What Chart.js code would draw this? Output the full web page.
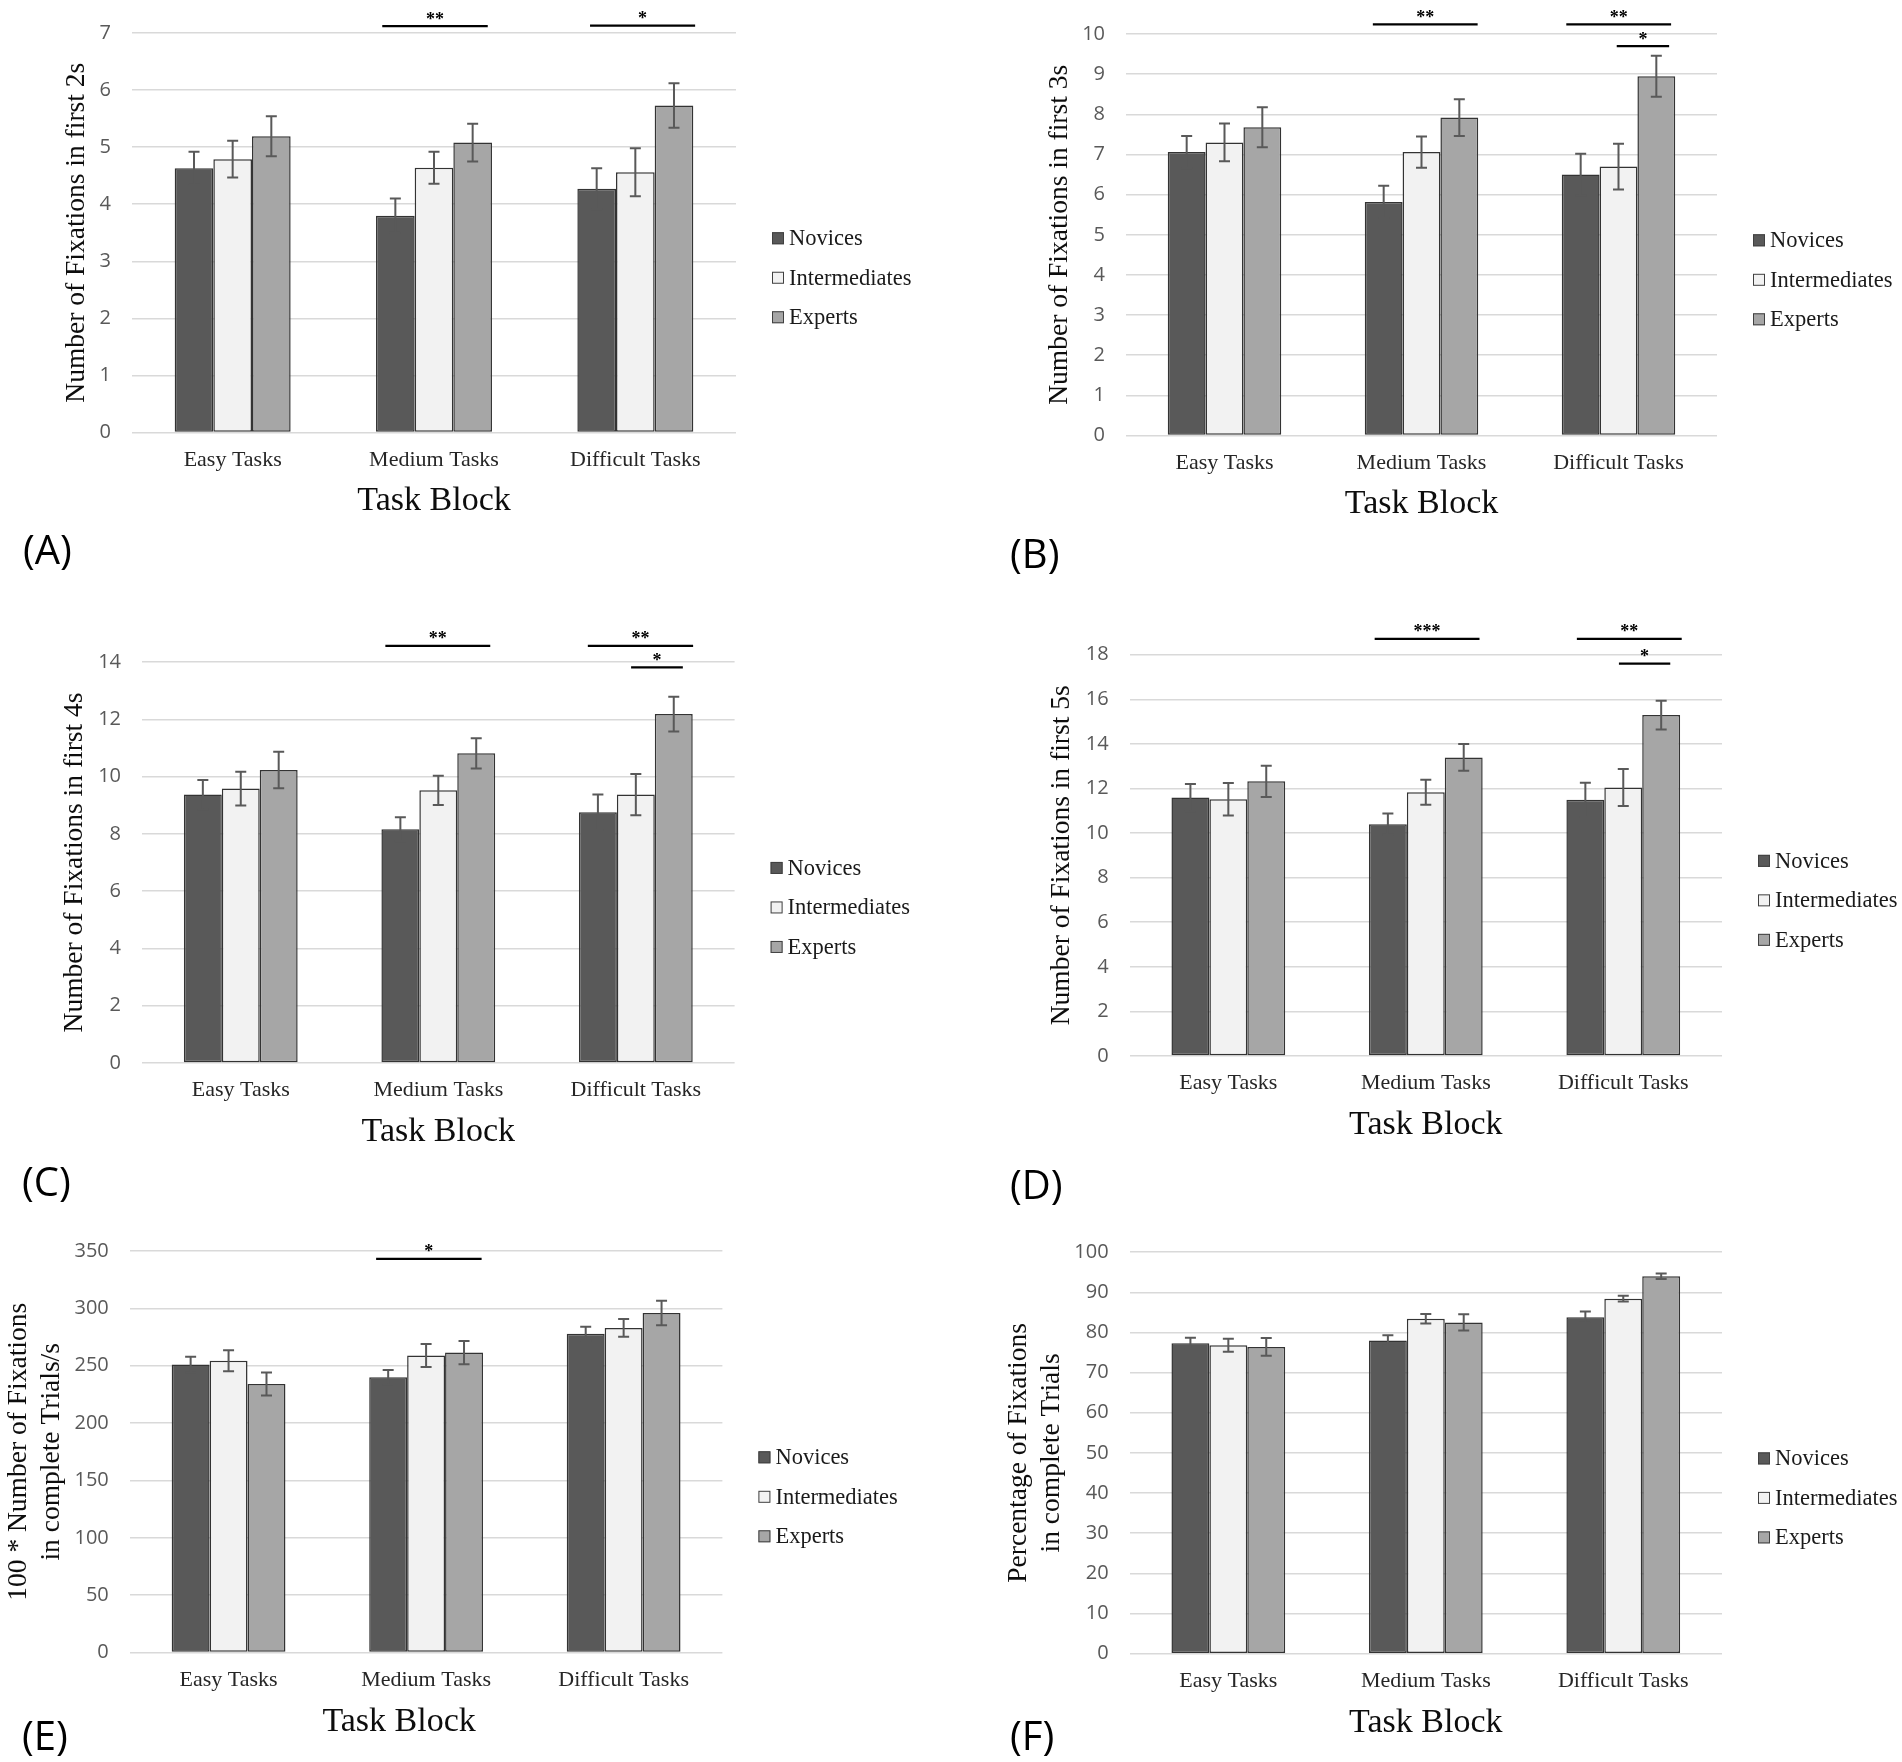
<!DOCTYPE html>
<html>
<head>
<meta charset="utf-8">
<title>Number of fixations by task block</title>
<script src="https://cdn.jsdelivr.net/npm/chart.js"></script>
<style>
    body { margin: 0; background: #fff; width: 1902px; height: 1762px; position: relative; overflow: hidden; }
    canvas { position: absolute; }
    .tag { position: absolute; font-family: "Open Sans", sans-serif; font-size: 40px; line-height: 40px; color: #000; }
</style>
</head>
<body>
<canvas id="chartA" width="951" height="590" style="left:0px;top:0px"></canvas>
<canvas id="chartB" width="951" height="590" style="left:951px;top:0px"></canvas>
<canvas id="chartC" width="951" height="590" style="left:0px;top:590px"></canvas>
<canvas id="chartD" width="951" height="590" style="left:951px;top:590px"></canvas>
<canvas id="chartE" width="951" height="582" style="left:0px;top:1180px"></canvas>
<canvas id="chartF" width="951" height="582" style="left:951px;top:1180px"></canvas>

<div class="tag" style="left:23px;top:529px">(A)</div>
<div class="tag" style="left:1010px;top:533px">(B)</div>
<div class="tag" style="left:22px;top:1161px">(C)</div>
<div class="tag" style="left:1010px;top:1164px">(D)</div>
<div class="tag" style="left:22px;top:1715px">(E)</div>
<div class="tag" style="left:1010px;top:1715px">(F)</div>

<script>
    const categories = ['Easy Tasks', 'Medium Tasks', 'Difficult Tasks'];
    const groups = ['Novices', 'Intermediates', 'Experts'];
    const xAxisTitle = 'Task Block';

    // (A) first 2 s
    const novicesA = [4.63, 3.80, 4.27];
    const intermediatesA = [4.79, 4.64, 4.56];
    const expertsA = [5.19, 5.08, 5.73];
    const novicesErrA = [0.29, 0.30, 0.36];
    const intermediatesErrA = [0.32, 0.28, 0.42];
    const expertsErrA = [0.35, 0.33, 0.39];
    const sigA = [[0.743, 1.267, 7.12, '**'], [1.775, 2.297, 7.13, '*']];

    // (B) first 3 s
    const novicesB = [7.06, 5.82, 6.50];
    const intermediatesB = [7.30, 7.06, 6.70];
    const expertsB = [7.68, 7.92, 8.95];
    const novicesErrB = [0.40, 0.40, 0.52];
    const intermediatesErrB = [0.47, 0.39, 0.57];
    const expertsErrB = [0.50, 0.46, 0.51];
    const sigB = [[0.753, 1.285, 10.24, '**'], [1.735, 2.267, 10.24, '**'], [1.991, 2.257, 9.70, '*']];

    // (C) first 4 s
    const novicesC = [9.37, 8.16, 8.75];
    const intermediatesC = [9.58, 9.52, 9.37];
    const expertsC = [10.23, 10.81, 12.18];
    const novicesErrC = [0.51, 0.42, 0.62];
    const intermediatesErrC = [0.59, 0.51, 0.72];
    const expertsErrC = [0.64, 0.53, 0.61];
    const sigC = [[0.732, 1.263, 14.56, '**'], [1.757, 2.290, 14.56, '**'], [1.976, 2.238, 13.81, '*']];

    // (D) first 5 s
    const novicesD = [11.59, 10.40, 11.49];
    const intermediatesD = [11.52, 11.83, 12.04];
    const expertsD = [12.32, 13.39, 15.29];
    const novicesErrD = [0.61, 0.48, 0.77];
    const intermediatesErrD = [0.73, 0.56, 0.83];
    const expertsErrD = [0.70, 0.60, 0.65];
    const sigD = [[0.741, 1.272, 18.71, '***'], [1.765, 2.296, 18.71, '**'], [1.978, 2.238, 17.60, '*']];

    // (E) fixations per second in complete trials (x100)
    const novicesE = [251.0, 240.0, 277.8];
    const intermediatesE = [254.3, 258.9, 283.0];
    const expertsE = [234.1, 261.5, 296.0];
    const novicesErrE = [6.9, 6.2, 6.1];
    const intermediatesErrE = [9.1, 10.1, 7.8];
    const expertsErrE = [10.1, 10.1, 10.7];
    const sigE = [[0.747, 1.281, 343.2, '*']];

    // (F) percentage of fixations in complete trials
    const novicesF = [77.3, 78.0, 83.8];
    const intermediatesF = [76.8, 83.4, 88.4];
    const expertsF = [76.4, 82.5, 94.0];
    const novicesErrF = [1.4, 1.3, 1.4];
    const intermediatesErrF = [1.6, 1.2, 0.7];
    const expertsErrF = [2.2, 2.0, 0.7];
    const sigF = [];

    const yTitles = [
        'Number of Fixations in first 2s',
        'Number of Fixations in first 3s',
        'Number of Fixations in first 4s',
        'Number of Fixations in first 5s',
        ['100 * Number of Fixations', 'in complete Trials/s'],
        ['Percentage of Fixations', 'in complete Trials']
    ];
    const yMax = [7, 10, 14, 18, 350, 100];
    const yStep = [1, 1, 2, 2, 50, 10];

    // 패널별 값 묶음
    const means = [
        [novicesA, intermediatesA, expertsA],
        [novicesB, intermediatesB, expertsB],
        [novicesC, intermediatesC, expertsC],
        [novicesD, intermediatesD, expertsD],
        [novicesE, intermediatesE, expertsE],
        [novicesF, intermediatesF, expertsF]
    ];
    const errs = [
        [novicesErrA, intermediatesErrA, expertsErrA],
        [novicesErrB, intermediatesErrB, expertsErrB],
        [novicesErrC, intermediatesErrC, expertsErrC],
        [novicesErrD, intermediatesErrD, expertsErrD],
        [novicesErrE, intermediatesErrE, expertsErrE],
        [novicesErrF, intermediatesErrF, expertsErrF]
    ];
    const sigs = [sigA, sigB, sigC, sigD, sigE, sigF];

    // 색상, 배치 (스타일)
    const groupColors = ['#595959', '#f2f2f2', '#a6a6a6'];
    const serif = '"Liberation Serif", "Times New Roman", serif';
    const boxes = [
        { id: 'chartA', w: 951, h: 590, L: 132,   R: 736,   T: 31.4, B: 432.5, pad: 60.5, shift: 0 },
        { id: 'chartB', w: 951, h: 590, L: 175,   R: 766,   T: 34.1, B: 435.5, pad: 92.5, shift: 0 },
        { id: 'chartC', w: 951, h: 590, L: 142,   R: 734.6, T: 72,   B: 472.9, pad: 58,   shift: 0 },
        { id: 'chartD', w: 951, h: 590, L: 178.6, R: 771,   T: 64.7, B: 466,   pad: 94.5, shift: 0 },
        { id: 'chartE', w: 951, h: 582, L: 129.8, R: 722.4, T: 71,   B: 472.6, pad: 2.5,  shift: -27 },
        { id: 'chartF', w: 951, h: 582, L: 178.6, R: 771,   T: 72.1, B: 473.7, pad: 51.5, shift: 0 }
    ];

    // 에러바
    const errorBars = {
        id: 'errorBars',
        afterDatasetsDraw(chart) {
            const { ctx, scales: { y } } = chart;
            ctx.save();
            ctx.strokeStyle = '#595959';
            ctx.lineWidth = 2;
            chart.data.datasets.forEach((ds, i) => {
                chart.getDatasetMeta(i).data.forEach((bar, j) => {
                    const hi = y.getPixelForValue(ds.data[j] + ds.errors[j]);
                    const lo = y.getPixelForValue(ds.data[j] - ds.errors[j]);
                    ctx.beginPath();
                    ctx.moveTo(bar.x, hi); ctx.lineTo(bar.x, lo);
                    ctx.moveTo(bar.x - 5.5, hi); ctx.lineTo(bar.x + 5.5, hi);
                    ctx.moveTo(bar.x - 5.5, lo); ctx.lineTo(bar.x + 5.5, lo);
                    ctx.stroke();
                });
            });
            ctx.restore();
        }
    };

    // 유의성 표시 선 + 별표
    function sigBars(items) {
        return {
            id: 'sigBars',
            afterDatasetsDraw(chart) {
                const { ctx, scales: { x, y } } = chart;
                ctx.save();
                items.forEach(([from, to, val, stars]) => {
                    const x0 = x.getPixelForValue(from);
                    const x1 = x.getPixelForValue(to);
                    const yy = y.getPixelForValue(val);
                    ctx.strokeStyle = '#000';
                    ctx.lineWidth = 2.2;
                    ctx.beginPath();
                    ctx.moveTo(x0, yy); ctx.lineTo(x1, yy);
                    ctx.stroke();
                    ctx.fillStyle = '#000';
                    ctx.font = 'bold 18px ' + serif;
                    ctx.textAlign = 'center';
                    ctx.textBaseline = 'alphabetic';
                    ctx.fillText(stars, (x0 + x1) / 2, yy - 1.5);
                });
                ctx.restore();
            }
        };
    }

    // 오른쪽 범례
    const sideLegend = {
        id: 'sideLegend',
        afterDraw(chart) {
            const { ctx, chartArea: a } = chart;
            const x = a.right + 36;
            const mid = (a.top + a.bottom) / 2 + 45;
            ctx.save();
            ctx.font = '22.5px ' + serif;
            ctx.textBaseline = 'middle';
            ctx.textAlign = 'left';
            chart.data.datasets.forEach((ds, i) => {
                const yy = mid + (i - 1) * 39.5;
                ctx.fillStyle = ds.backgroundColor;
                ctx.fillRect(x, yy - 6, 12, 12);
                ctx.strokeStyle = '#404040';
                ctx.lineWidth = 1;
                ctx.strokeRect(x + 0.5, yy - 5.5, 11, 11);
                ctx.fillStyle = '#1a1a1a';
                ctx.fillText(ds.label, x + 17, yy + 1);
            });
            ctx.restore();
        }
    };

    // x축 제목
    function xTitle(shift) {
        return {
            id: 'xTitle',
            afterDraw(chart) {
                const { ctx, chartArea: a } = chart;
                ctx.save();
                ctx.font = '34px ' + serif;
                ctx.fillStyle = '#0d0d0d';
                ctx.textAlign = 'center';
                ctx.textBaseline = 'middle';
                ctx.fillText(xAxisTitle, (a.left + a.right) / 2 + shift, a.bottom + 69);
                ctx.restore();
            }
        };
    }

    function makeChart(k) {
        const box = boxes[k];
        return new Chart(document.getElementById(box.id), {
            type: 'bar',
            data: {
                labels: categories,
                datasets: groups.map((g, i) => ({
                    label: g,
                    data: means[k][i],
                    errors: errs[k][i],
                    backgroundColor: groupColors[i],
                    borderColor: '#333333',
                    borderWidth: 1.5,
                    borderSkipped: false,
                    categoryPercentage: 0.576,
                    barPercentage: 1
                }))
            },
            options: {
                responsive: false,
                animation: false,
                layout: { padding: { left: 0, top: box.T, right: box.w - box.R, bottom: 0 } },
                scales: {
                    x: {
                        grid: { display: false, drawTicks: false },
                        border: { display: false },
                        ticks: {
                            color: '#262626',
                            font: { family: serif, size: 22 },
                            padding: 14.3,
                            autoSkip: false,
                            maxRotation: 0
                        },
                        afterFit(s) { s.height = box.h - box.B; }
                    },
                    y: {
                        min: 0,
                        max: yMax[k],
                        ticks: {
                            stepSize: yStep[k],
                            color: '#595959',
                            font: { family: '"Open Sans", sans-serif', size: 20 },
                            padding: 21
                        },
                        grid: { color: '#d9d9d9', lineWidth: 1.5, drawTicks: false },
                        border: { display: false },
                        title: {
                            display: true,
                            text: yTitles[k],
                            color: '#0d0d0d',
                            font: { family: serif, size: 27.5 },
                            padding: { top: box.pad, bottom: 0 }
                        },
                        afterFit(s) { s.width = box.L; }
                    }
                },
                plugins: {
                    legend: { display: false },
                    tooltip: { enabled: false }
                }
            },
            plugins: [errorBars, sigBars(sigs[k]), sideLegend, xTitle(box.shift)]
        });
    }

    boxes.forEach((b, k) => makeChart(k));
</script>
</body>
</html>
